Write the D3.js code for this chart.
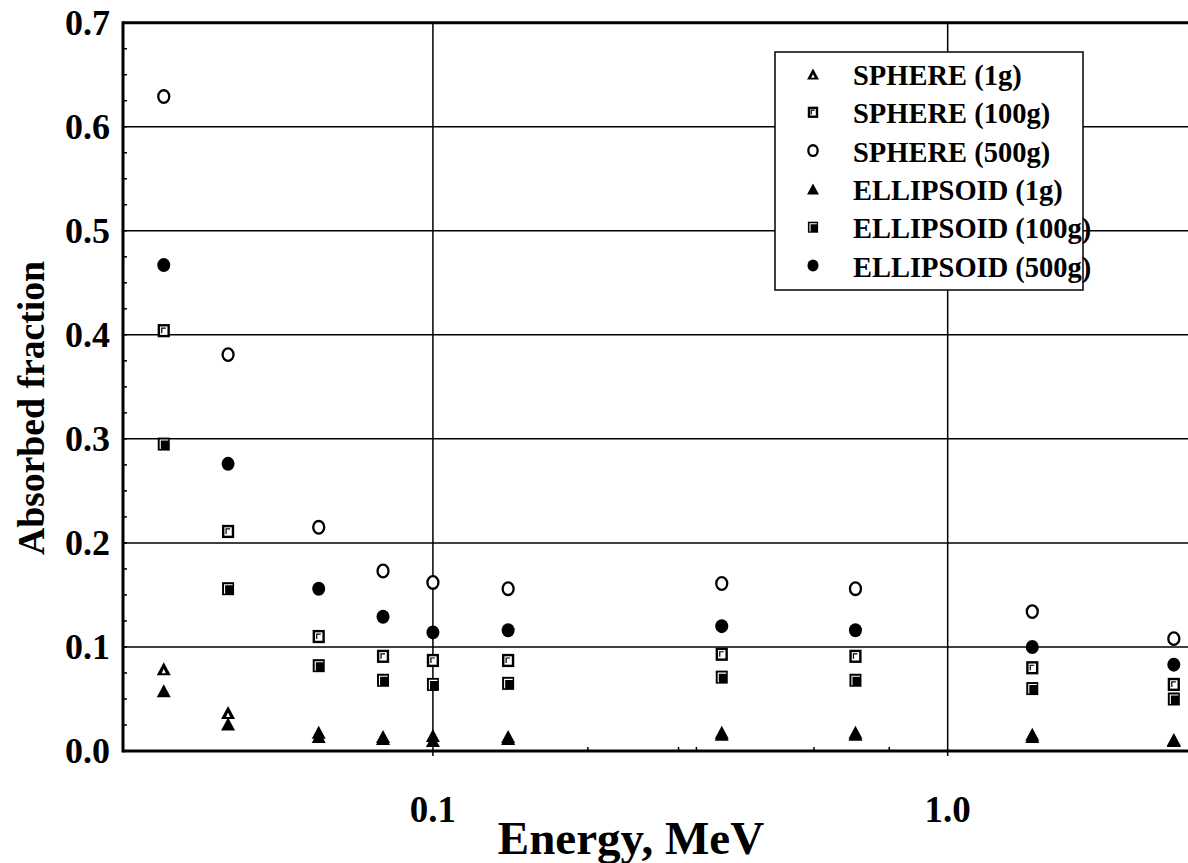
<!DOCTYPE html>
<html>
<head>
<meta charset="utf-8">
<script src="https://cdn.jsdelivr.net/npm/d3@7"></script>
<style>
  html, body { margin: 0; padding: 0; background: #fff; }
  svg { display: block; }
  text { font-family: "Liberation Serif", "Times New Roman", serif; font-weight: bold; fill: #000; }
</style>
</head>
<body>
<svg id="chart" width="1188" height="863"></svg>
<script>
// ---- data ----
const energies = [0.03, 0.04, 0.06, 0.08, 0.1, 0.14, 0.364, 0.662, 1.46, 2.75];
const sphere1      = [0.079, 0.037, 0.018, 0.014, 0.015, 0.014, 0.018, 0.018, 0.016, 0.011];
const sphere100    = [0.404, 0.211, 0.110, 0.091, 0.087, 0.087, 0.093, 0.091, 0.080, 0.064];
const sphere500    = [0.629, 0.381, 0.215, 0.173, 0.162, 0.156, 0.161, 0.156, 0.134, 0.108];
const ellipsoid1   = [0.058, 0.026, 0.014, 0.012, 0.010, 0.012, 0.016, 0.016, 0.014, 0.010];
const ellipsoid100 = [0.295, 0.156, 0.082, 0.068, 0.064, 0.065, 0.071, 0.068, 0.060, 0.050];
const ellipsoid500 = [0.467, 0.276, 0.156, 0.129, 0.114, 0.116, 0.120, 0.116, 0.100, 0.083];
const seriesNames = ["SPHERE (1g)", "SPHERE (100g)", "SPHERE (500g)", "ELLIPSOID (1g)", "ELLIPSOID (100g)", "ELLIPSOID (500g)"];
const seriesShapes = ["triOpen", "sqOpen", "circOpen", "triFill", "sqFill", "circFill"];
const seriesValues = [sphere1, sphere100, sphere500, ellipsoid1, ellipsoid100, ellipsoid500];
const yTickValues = [0, 0.1, 0.2, 0.3, 0.4, 0.5, 0.6, 0.7];
const yTickLabels = ["0.0", "0.1", "0.2", "0.3", "0.4", "0.5", "0.6", "0.7"];
const xTickValues = [0.1, 1.0];
const xTickLabels = ["0.1", "1.0"];
const xMinorTicks = [0.2, 0.3, 0.325, 0.55, 0.77];
const xDomain = [0.025, 2.93];
const yDomain = [0, 0.7];

// ---- layout ----
const mLeft = 123, mRight = 1188, mTop = 22.7, mBottom = 751;
const svg = d3.select("#chart");
const x = d3.scaleLog().domain(xDomain).range([mLeft, mRight]);
const y = d3.scaleLinear().domain(yDomain).range([mBottom, mTop]);

// gridlines
const grid = svg.append("g").attr("stroke", "#000").attr("stroke-width", 1.5);
grid.selectAll("line.h").data(yTickValues.filter(v => v > 0 && v < 0.7)).join("line")
  .attr("class", "h")
  .attr("x1", mLeft).attr("x2", mRight).attr("y1", d => y(d)).attr("y2", d => y(d));
grid.selectAll("line.v").data(xTickValues).join("line")
  .attr("class", "v")
  .attr("x1", d => x(d)).attr("x2", d => x(d)).attr("y1", mTop).attr("y2", mBottom + 5);

// minor y ticks
const yMinor = d3.range(0, 0.7001, 0.025);
svg.append("g").attr("stroke", "#000").attr("stroke-width", 1.5)
  .selectAll("line").data(yMinor).join("line")
  .attr("x1", mLeft).attr("x2", mLeft + 4).attr("y1", d => y(d)).attr("y2", d => y(d));
// minor x ticks
svg.append("g").attr("stroke", "#000").attr("stroke-width", 1.5)
  .selectAll("line").data(xMinorTicks).join("line")
  .attr("x1", d => x(d)).attr("x2", d => x(d)).attr("y1", mBottom).attr("y2", mBottom - 4);

// axes frame
svg.append("line").attr("x1", mLeft).attr("x2", mRight).attr("y1", mBottom).attr("y2", mBottom)
  .attr("stroke", "#000").attr("stroke-width", 3);
svg.append("line").attr("x1", mLeft).attr("x2", mRight).attr("y1", mTop).attr("y2", mTop)
  .attr("stroke", "#000").attr("stroke-width", 3);
svg.append("line").attr("x1", mLeft).attr("x2", mLeft).attr("y1", mTop - 1.5).attr("y2", mBottom + 1.5)
  .attr("stroke", "#000").attr("stroke-width", 3);

// tick labels
svg.append("g").selectAll("text").data(yTickValues).join("text")
  .attr("x", 110).attr("y", d => y(d) + 12)
  .attr("text-anchor", "end").attr("font-size", 36)
  .text((d, i) => yTickLabels[i]);
svg.append("g").selectAll("text").data(xTickValues).join("text")
  .attr("x", d => x(d)).attr("y", 822)
  .attr("text-anchor", "middle").attr("font-size", 37)
  .text((d, i) => xTickLabels[i]);

// axis titles
svg.append("text").attr("x", 631).attr("y", 854).attr("text-anchor", "middle")
  .attr("font-size", 47).text("Energy, MeV");
svg.append("text").attr("transform", "translate(44,408) rotate(-90)").attr("text-anchor", "middle")
  .attr("font-size", 37.7).text("Absorbed fraction");

// marker drawing
function drawMarker(g, shape, s) {
  if (shape === "triOpen" || shape === "triFill") {
    const w = 14 * s, h = 13 * s;
    g.append("path").attr("d", `M0,${-h/2}L${w/2},${h/2}L${-w/2},${h/2}Z`).attr("fill", "#000");
    if (shape === "triOpen") {
      const w2 = 4 * s, h2 = 4.5 * s;
      g.append("path").attr("d", `M0,${h/2 - 2*s - h2}L${w2/2},${h/2 - 2*s}L${-w2/2},${h/2 - 2*s}Z`).attr("fill", "#fff");
    }
  } else if (shape === "sqOpen" || shape === "sqFill") {
    const w = 12 * s, h = 13 * s;
    if (shape === "sqOpen") {
      g.append("rect").attr("x", -w/2 + 1.1).attr("y", -h/2 + 1.1).attr("width", w - 2.2).attr("height", h - 2.2)
        .attr("fill", "#fff").attr("stroke", "#000").attr("stroke-width", 2.4);
      g.append("path").attr("d", `M${-w/2 + 4*s},${h/2 - 4*s}V${-h/2 + 4*s}H${w/2 - 4*s}`)
        .attr("fill", "none").attr("stroke", "#000").attr("stroke-width", 1.2);
    } else {
      g.append("rect").attr("x", -w/2).attr("y", -h/2).attr("width", w).attr("height", h).attr("fill", "#000");
      g.append("path").attr("d", `M${-w/2 + 2.5*s},${h/2 - 1.5*s}V${-h/2 + 2.5*s}H${w/2 - 1.5*s}`)
        .attr("fill", "none").attr("stroke", "#fff").attr("stroke-width", 1.1);
    }
  } else if (shape === "circOpen") {
    g.append("ellipse").attr("rx", 5.5 * s).attr("ry", 6.3 * s)
      .attr("fill", "#fff").attr("stroke", "#000").attr("stroke-width", 2.3);
  } else if (shape === "circFill") {
    g.append("ellipse").attr("rx", 6.5 * s).attr("ry", 7 * s).attr("fill", "#000");
  }
}

// points
seriesValues.forEach((vals, si) => {
  const gs = svg.append("g").attr("class", "series");
  gs.selectAll("g").data(vals.map((v, i) => ({ e: energies[i], v }))).join("g")
    .attr("transform", d => `translate(${x(d.e)},${y(d.v)})`)
    .each(function () { drawMarker(d3.select(this), seriesShapes[si], 1); });
});

// legend
const lg = svg.append("g");
lg.append("rect").attr("x", 775).attr("y", 52).attr("width", 308).attr("height", 238)
  .attr("fill", "#fff").attr("stroke", "#000").attr("stroke-width", 1.5);
seriesNames.forEach((name, i) => {
  const cy = 75 + i * 38.3;
  const mg = lg.append("g").attr("transform", `translate(813,${cy - 1})`);
  drawMarker(mg, seriesShapes[i], 0.85);
  lg.append("text").attr("x", 853).attr("y", cy + 10).attr("font-size", 28.5).text(name);
});
</script>
</body>
</html>
